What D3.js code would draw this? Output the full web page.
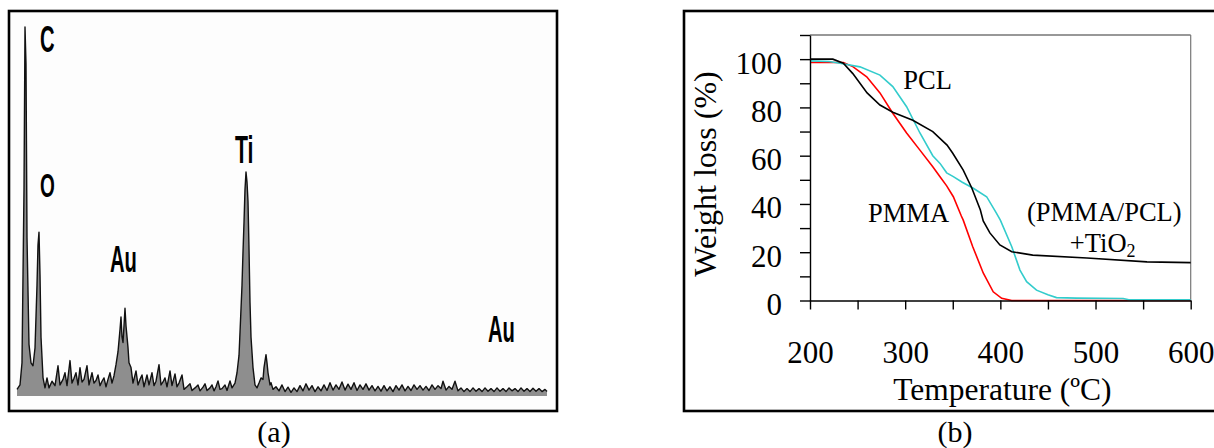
<!DOCTYPE html>
<html>
<head>
<meta charset="utf-8">
<script src="https://cdn.jsdelivr.net/npm/d3@7"></script>
<style>
  body { margin: 0; background: #fff; }
  svg { display: block; }
</style>
</head>
<body>
<svg id="fig" width="1214" height="448"></svg>
<script>
// ---------- data: (a) EDS spectrum, [channel, counts] ----------
const edsSpectrum = [
  [0,18],[3,30],[5,90],[7,560],[8,1000],[9,900],[10,430],[12,140],[14,90],[16,82],
  [18,130],[20,300],[21,410],[22,444],[23,330],[24,160],[26,50],[28,22],[30,49],[32,22],
  [35,40],[38,28],[41,82],[43,30],[46,45],[48,63],[50,28],[53,96],[55,35],[57,48],
  [59,63],[61,30],[63,77],[65,38],[67,45],[70,82],[72,30],[75,63],[77,35],[79,42],
  [81,57],[83,28],[85,40],[87,49],[89,25],[91,45],[93,63],[95,35],[97,55],[99,85],
  [101,120],[103,180],[104,214],[105,160],[106,145],[107,190],[108,238],[109,190],[111,131],[112,90],
  [114,77],[116,35],[119,68],[121,30],[123,45],[125,57],[127,25],[130,57],[132,30],[135,63],
  [137,28],[139,40],[142,85],[144,30],[146,38],[148,49],[150,25],[153,68],[155,28],[158,60],
  [160,25],[162,35],[165,57],[167,18],[170,25],[173,33],[175,15],[178,22],[181,30],[183,14],
  [186,24],[188,33],[190,15],[193,22],[195,30],[197,14],[199,25],[201,41],[203,18],[205,20],
  [208,30],[210,15],[213,41],[215,22],[218,35],[220,63],[222,110],[223,172],[225,300],[226,390],
  [227,470],[228,560],[229,607],[230,580],[231,527],[232,400],[233,254],[234,160],[236,77],[238,30],
  [240,22],[242,35],[244,49],[246,45],[247,77],[249,112],[250,90],[251,63],[253,30],[254,36],
  [256,18],[259,25],[262,14],[265,30],[268,12],[271,24],[274,10],[277,22],[280,12],[283,28],
  [286,14],[289,33],[292,16],[295,28],[298,12],[301,25],[304,14],[307,30],[310,15],[313,36],
  [316,16],[319,30],[322,18],[325,38],[328,16],[331,32],[334,18],[337,36],[340,15],[343,30],
  [346,18],[349,33],[352,16],[355,28],[358,14],[361,26],[364,13],[367,28],[370,14],[373,25],
  [376,12],[379,28],[382,16],[385,30],[388,14],[391,26],[394,15],[397,30],[400,18],[403,28],
  [406,16],[409,26],[412,15],[415,30],[418,18],[421,28],[424,20],[426,40],[429,16],[432,26],
  [435,18],[438,40],[441,14],[444,22],[447,12],[450,20],[453,12],[456,22],[459,13],[462,20],
  [465,12],[468,22],[471,13],[474,20],[477,12],[480,22],[483,13],[486,20],[489,12],[492,22],
  [495,14],[498,20],[501,12],[504,22],[507,13],[510,20],[513,12],[516,21],[519,13],[522,20],
  [525,12],[528,18],[530,12]
];

// peak labels (channel, counts at label baseline)
const edsLabels = [
  { text: 'C',  ch: 23,  c: 933, size: 36 },
  { text: 'O',  ch: 23,  c: 540, size: 34 },
  { text: 'Au', ch: 93,  c: 336, size: 36 },
  { text: 'Ti', ch: 218, c: 632, size: 38 },
  { text: 'Au', ch: 471, c: 146, size: 36 }
];

// ---------- data: (b) TGA, [temperature, weight %] ----------
const tgaPCL = [
  [200,99.3],[220,99.0],[231.5,98.3],[252.5,96.8],[273.5,93.4],[287,88.6],[301.5,80.3],
  [315.5,69.4],[329,60],[336.6,56.8],[343.6,52.9],[350.6,51.3],[360,49],[371.6,46.5],
  [385.6,43],[396,36.1],[400,33.3],[412,22.3],[420.6,12.6],[427.6,7.8],[438,4.3],
  [450,2.4],[459,1.2],[480,1.0],[529,0.8],[535,0.3],[600,0.3]
];
const tgaPMMA = [
  [200,98.6],[235,98.6],[245,96.9],[259.6,92.7],[273.5,86],[287,77.6],[301.5,69.4],
  [315.5,62.3],[329,55.4],[336.6,51.3],[343.6,47.5],[350.6,43],[359,35],[361,33.3],
  [371,22.3],[382,11.4],[392.5,3.6],[401.4,0.9],[412,0],[600,0]
];
const tgaBlend = [
  [200,100],[224,100],[235,98.3],[245,94],[260,86],[273.5,81],[287,78],[308,74.7],
  [329,70],[344,64.4],[350,61],[361,54],[370,46.6],[379,37.5],[382,33],[389,28],
  [399.5,23],[412,20.2],[434,18.8],[491,17.6],[554,16],[600,15.7]
];
const tgaSeries = [
  { name: 'PMMA',  data: tgaPMMA,  color: '#ff0000' },
  { name: 'PCL',   data: tgaPCL,   color: '#33cccc' },
  { name: 'blend', data: tgaBlend, color: '#000000' }
];
const xTicks = [200, 250, 300, 350, 400, 450, 500, 550, 600];
const xTickLabels = [200, 300, 400, 500, 600];
const yTicks = [0, 10, 20, 30, 40, 50, 60, 70, 80, 90, 100, 110];
const yTickLabels = [0, 20, 40, 60, 80, 100];

// ---------- drawing ----------
const svg = d3.select('#fig');
const serif = '"Liberation Serif", "Times New Roman", serif';

// ===== panel (a) =====
svg.append('rect')
  .attr('x', 9).attr('y', 11).attr('width', 548).attr('height', 400)
  .attr('fill', '#fdfdfd').attr('stroke', '#000').attr('stroke-width', 2.6);

const xA = d3.scaleLinear().domain([0, 530]).range([17, 547]);
const yA = d3.scaleLinear().domain([0, 1000]).range([396, 27]);

svg.append('path')
  .datum(edsSpectrum)
  .attr('d', d3.area().x(d => xA(d[0])).y0(yA(0)).y1(d => yA(d[1])))
  .attr('fill', '#8e8e8e');

svg.append('path')
  .datum(edsSpectrum)
  .attr('d', d3.line().x(d => xA(d[0])).y(d => yA(d[1])))
  .attr('fill', 'none').attr('stroke', '#111').attr('stroke-width', 1.4)
  .attr('stroke-linejoin', 'round');

svg.selectAll('text.eds')
  .data(edsLabels)
  .join('text')
  .attr('class', 'eds')
  .attr('transform', d => `translate(${xA(d.ch)},${yA(d.c)}) scale(0.56,1)`)
  .attr('font-family', '"Liberation Sans", Arial, sans-serif')
  .attr('font-weight', 'bold')
  .attr('font-size', d => d.size)
  .attr('fill', '#000')
  .text(d => d.text);

svg.append('text')
  .attr('x', 274).attr('y', 442)
  .attr('text-anchor', 'middle')
  .attr('font-family', serif).attr('font-size', 30)
  .text('(a)');

// ===== panel (b) =====
svg.append('rect')
  .attr('x', 684).attr('y', 11).attr('width', 540).attr('height', 400)
  .attr('fill', 'none').attr('stroke', '#000').attr('stroke-width', 2.6);

const x = d3.scaleLinear().domain([200, 600]).range([810, 1190.7]);
const y = d3.scaleLinear().domain([0, 110]).range([300.5, 35]);

// plot frame top / right
svg.append('line')
  .attr('x1', x(200)).attr('x2', x(600)).attr('y1', y(110)).attr('y2', y(110))
  .attr('stroke', '#333').attr('stroke-width', 1.2);
svg.append('line')
  .attr('x1', x(600)).attr('x2', x(600)).attr('y1', y(110)).attr('y2', y(0))
  .attr('stroke', '#777').attr('stroke-width', 1.2);

const line = d3.line().x(d => x(d[0])).y(d => y(d[1]));
svg.selectAll('path.tga')
  .data(tgaSeries)
  .join('path')
  .attr('class', 'tga')
  .attr('d', d => line(d.data))
  .attr('fill', 'none')
  .attr('stroke', d => d.color)
  .attr('stroke-width', 1.6);

// axes
const yAxis = svg.append('g')
  .attr('transform', `translate(${x(200)},0)`)
  .call(d3.axisLeft(y).tickValues(yTicks).tickSize(10).tickSizeOuter(0)
    .tickFormat(d => yTickLabels.includes(d) ? d : ''));
yAxis.selectAll('text')
  .attr('x', -28).attr('dy', null).attr('y', 14)
  .attr('font-family', serif).attr('font-size', 31).attr('fill', '#000');

const xAxis = svg.append('g')
  .attr('transform', `translate(0,${y(0)})`)
  .call(d3.axisBottom(x).tickValues(xTicks).tickSize(9).tickSizeOuter(0)
    .tickFormat(d => xTickLabels.includes(d) ? d : ''));
xAxis.selectAll('text')
  .attr('y', 62).attr('dy', null)
  .attr('font-family', serif).attr('font-size', 31).attr('fill', '#000');

svg.selectAll('.domain, .tick line')
  .attr('stroke', '#000').attr('stroke-width', 1.4);

// axis titles
svg.append('text')
  .attr('x', (x(200) + x(600)) / 2 + 2).attr('y', 400)
  .attr('text-anchor', 'middle')
  .attr('font-family', serif).attr('font-size', 31.5)
  .text('Temperature (ºC)');

svg.append('text')
  .attr('transform', 'translate(716,174) rotate(-90)')
  .attr('text-anchor', 'middle')
  .attr('font-family', serif).attr('font-size', 32)
  .text('Weight loss (%)');

// series annotations
const notes = [
  { t: 298, w: 87.6, text: 'PCL' },
  { t: 261, w: 32.5, text: 'PMMA' },
  { t: 428, w: 33,   text: '(PMMA/PCL)' }
];
svg.selectAll('text.note')
  .data(notes)
  .join('text')
  .attr('class', 'note')
  .attr('x', d => x(d.t)).attr('y', d => y(d.w))
  .attr('font-family', serif).attr('font-size', 26.5)
  .text(d => d.text);

const tio2 = svg.append('text')
  .attr('x', x(473)).attr('y', y(20))
  .attr('font-family', serif).attr('font-size', 26.5)
  .text('+TiO');
tio2.append('tspan').attr('font-size', 18).attr('dy', 5).text('2');

svg.append('text')
  .attr('x', 955).attr('y', 442)
  .attr('text-anchor', 'middle')
  .attr('font-family', serif).attr('font-size', 30)
  .text('(b)');
</script>
</body>
</html>
